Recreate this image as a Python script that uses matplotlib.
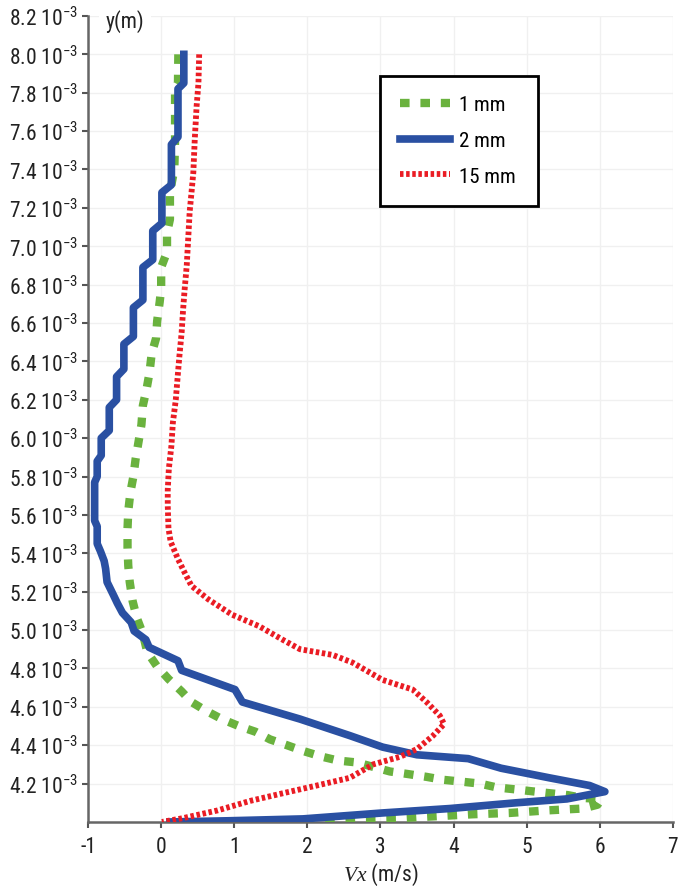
import numpy as np
import matplotlib
matplotlib.use("Agg")
import matplotlib.pyplot as plt
from matplotlib.ticker import FuncFormatter

plt.rcParams['font.family'] = ['Roboto Condensed', 'Liberation Sans', 'DejaVu Sans']
plt.rcParams['mathtext.fontset'] = 'custom'
plt.rcParams['mathtext.it'] = 'Liberation Serif:italic'
plt.rcParams['mathtext.rm'] = 'Roboto Condensed'
plt.rcParams['axes.unicode_minus'] = False

# velocity profiles, y in 1e-3 m, Vx in m/s
y_1mm = [8.00, 7.85, 7.82, 7.55, 7.40, 7.28, 7.14, 7.07, 6.97, 6.89, 6.78, 6.71, 6.61, 6.52,
         6.44, 6.34, 6.255, 6.17, 6.07, 5.98, 5.89, 5.80, 5.72, 5.62, 5.53, 5.43, 5.335, 5.25,
         5.15, 5.06, 4.98, 4.885, 4.81, 4.745, 4.68, 4.625, 4.58, 4.536, 4.50, 4.47, 4.43, 4.40,
         4.37, 4.34, 4.32, 4.31, 4.263, 4.25, 4.235, 4.22, 4.21, 4.20, 4.18, 4.17, 4.16, 4.15,
         4.14, 4.125, 4.12, 4.09, 4.07, 4.065, 4.06, 4.047, 4.04, 4.03, 4.02, 4.016, 4.008, 4.0]
vx_1mm = [0.235, 0.23, 0.19, 0.19, 0.18, 0.12, 0.12, 0.08, 0.08, 0.0, 0.0, -0.02, -0.055, -0.07,
          -0.13, -0.16, -0.20, -0.25, -0.27, -0.31, -0.35, -0.38, -0.42, -0.45, -0.46, -0.46, -0.45, -0.43,
          -0.39, -0.33, -0.25, -0.19, -0.055, 0.10, 0.28, 0.415, 0.61, 0.83, 1.06, 1.29, 1.49, 1.72,
          1.94, 2.20, 2.42, 2.68, 3.13, 3.37, 3.63, 3.85, 4.11, 4.36, 4.59, 4.84, 5.07, 5.31,
          5.56, 5.77, 6.02, 5.97, 5.77, 5.52, 5.27, 4.77, 4.26, 3.77, 3.27, 2.76, 2.27, 2.0]

y_2mm = [8.00, 7.85, 7.82, 7.57, 7.53, 7.32, 7.28, 7.12, 7.08, 6.93, 6.89, 6.72, 6.68, 6.53,
         6.49, 6.36, 6.32, 6.20, 6.16, 6.04, 6.00, 5.91, 5.88, 5.80, 5.77, 5.57, 5.54, 5.45,
         5.41, 5.36, 5.32, 5.25, 5.18, 5.14, 5.09, 5.04, 4.995, 4.95, 4.91, 4.84, 4.79, 4.69,
         4.625, 4.536, 4.45, 4.39, 4.35, 4.33, 4.28, 4.23, 4.19, 4.158, 4.12, 4.10, 4.07, 4.047,
         4.016, 4.006, 4.0]
vx_2mm = [0.31, 0.31, 0.23, 0.23, 0.14, 0.14, 0.01, 0.01, -0.115, -0.115, -0.25, -0.25, -0.38, -0.38,
          -0.51, -0.51, -0.61, -0.61, -0.71, -0.71, -0.82, -0.82, -0.875, -0.875, -0.91, -0.91, -0.875, -0.875,
          -0.83, -0.78, -0.76, -0.74, -0.65, -0.60, -0.53, -0.41, -0.37, -0.21, -0.165, 0.23, 0.28, 1.01,
          1.11, 1.90, 2.58, 3.03, 3.50, 4.20, 4.65, 5.31, 5.86, 6.07, 5.55, 4.86, 3.95, 3.03,
          1.94, 0.90, 0.12]

y_15mm = [8.00, 7.85, 7.73, 7.56, 7.385, 7.28, 7.18, 7.04, 6.90, 6.77, 6.67, 6.55, 6.43, 6.34,
          6.20, 6.08, 5.96, 5.84, 5.73, 5.65, 5.53, 5.46, 5.37, 5.30, 5.23, 5.16, 5.08, 5.02,
          4.95, 4.90, 4.87, 4.83, 4.74, 4.69, 4.625, 4.555, 4.51, 4.45, 4.38, 4.34, 4.30, 4.23,
          4.19, 4.15, 4.11, 4.06, 4.02, 4.0]
vx_15mm = [0.52, 0.51, 0.485, 0.46, 0.44, 0.415, 0.39, 0.37, 0.35, 0.32, 0.30, 0.28, 0.25, 0.23,
           0.20, 0.16, 0.14, 0.105, 0.09, 0.09, 0.10, 0.13, 0.23, 0.32, 0.415, 0.645, 0.97, 1.34,
           1.66, 1.90, 2.35, 2.62, 3.03, 3.44, 3.63, 3.81, 3.87, 3.72, 3.50, 3.27, 2.90, 2.58,
           2.13, 1.67, 1.22, 0.77, 0.30, 0.01]

y_ticks = [4.2, 4.4, 4.6, 4.8, 5.0, 5.2, 5.4, 5.6, 5.8, 6.0, 6.2, 6.4, 6.6, 6.8, 7.0,
           7.2, 7.4, 7.6, 7.8, 8.0, 8.2]
x_ticks = [-1, 0, 1, 2, 3, 4, 5, 6, 7]

fig = plt.figure(figsize=(6.88, 8.87), dpi=100)
ax = fig.add_axes([0.128, 0.0722, 0.850, 0.9087])

ax.plot(vx_1mm, np.array(y_1mm) * 1e-3, color='#6ab23e', lw=6.0, dashes=(1.15, 1.3),
        dash_capstyle='butt', dash_joinstyle='round', label='1 mm', zorder=3)
ax.plot(vx_2mm, np.array(y_2mm) * 1e-3, color='#2a50a2', lw=5.5,
        solid_joinstyle='round', label='2 mm', zorder=4)
ax.plot(vx_15mm, np.array(y_15mm) * 1e-3, color='#ea1c24', lw=4.2, dashes=(0.6, 0.45),
        dash_capstyle='butt', label='15 mm', zorder=5)

ax.set_xlim(-1, 7)
ax.set_ylim(4.0e-3, 8.2e-3)
ax.set_xticks(x_ticks)
ax.set_yticks(np.array(y_ticks) * 1e-3)
ax.yaxis.set_major_formatter(FuncFormatter(lambda v, p: '%.1f $\\mathregular{10^{-3}}$' % (v * 1e3)))
ax.grid(True, color='#f0f0f0', lw=1.0, zorder=0)
ax.set_axisbelow(True)

for s in ['top', 'right']:
    ax.spines[s].set_visible(False)
for s in ['left', 'bottom']:
    ax.spines[s].set_color('#666666')
    ax.spines[s].set_linewidth(1.8)
ax.tick_params(axis='both', colors='#555555', labelcolor='#222222', labelsize=15.5,
               length=4, width=1.5, direction='out')
ax.tick_params(axis='y', pad=3)
ax.tick_params(axis='x', pad=6)

ax.text(0.063, 0.994, 'y(m)', transform=ax.transAxes, fontsize=15.5, color='#222222',
        ha='center', va='center', bbox=dict(facecolor='white', edgecolor='none', pad=5))
ax.set_xlabel('$\\mathit{Vx}$ (m/s)', fontsize=15.5, color='#222222', labelpad=3)

# legend box spans a fixed width, so the frame stays wide past the labels
leg = ax.legend(loc='upper left', bbox_to_anchor=(0.499, 0.776, 0.270, 0.15), mode='expand',
                borderaxespad=0, fontsize=15, frameon=True, fancybox=False,
                edgecolor='black', framealpha=1, handlelength=2.4, labelspacing=0.8,
                borderpad=0.95, handletextpad=0.45)
leg.get_frame().set_linewidth(2.0)

fig.savefig('out.png', dpi=100)
